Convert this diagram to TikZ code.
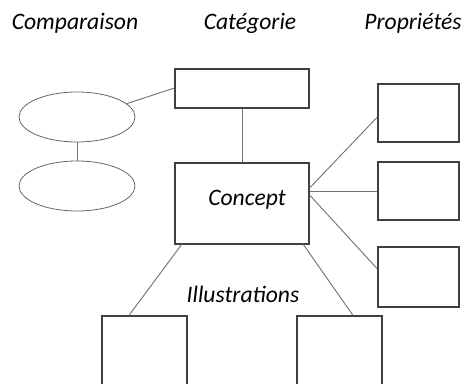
\documentclass[tikz,border=0pt]{standalone}
\usepackage{fontspec}
\setmainfont{Carlito}
\usetikzlibrary{shapes.geometric}
\begin{document}
\begin{tikzpicture}[x=0.75pt,y=-0.75pt,
  box/.style={draw=black!75,line width=0.9pt,fill=white,inner sep=0pt},
  oval/.style={draw=black!60,line width=0.6pt,ellipse,inner sep=0pt,minimum width=87pt,minimum height=37.5pt},
  link/.style={draw=black!55,line width=0.7pt},
  lbl/.style={font=\fontsize{17.7}{20}\selectfont\itshape,inner sep=0pt}]
\useasboundingbox (0,0) rectangle (465,384);
\clip (0,0) rectangle (465,384);
% headings
\node[lbl] (hcomp) at (75,23) {Comparaison};
\node[lbl] (hcat) at (250,23) {Catégorie};
\node[lbl] (hprop) at (413,23) {Propriétés};
% shapes
\node[box,minimum width=100.5pt,minimum height=29.25pt] (cat) at (242,88.5) {};
\node[box,minimum width=100.5pt,minimum height=60.75pt] (concept) at (242,203.5) {};
\node[lbl] (concepttxt) at (247,200) {Concept};
\node[oval] (e1) at (77,117) {};
\node[oval] (e2) at (77,186) {};
\node[box,minimum width=60.75pt,minimum height=43.5pt] (p1) at (418.5,113) {};
\node[box,minimum width=60.75pt,minimum height=43.5pt] (p2) at (418.5,191) {};
\node[box,minimum width=60.75pt,minimum height=45pt] (p3) at (418.5,277) {};
\node[box,minimum width=63.75pt,minimum height=75pt] (i1) at (144.5,366) {};
\node[box,minimum width=63.75pt,minimum height=75pt] (i2) at (339.5,366) {};
\node[lbl] (illtxt) at (243,294) {Illustrations};
% connectors
\draw[link] (e1) -- (e2);
\draw[link] (e1.15) -- (cat.west |- 0,88);
\draw[link] (cat.south) -- (concept.north);
\draw[link] (concept.east |- 0,188) -- (p1.west |- 0,117);
\draw[link] (concept.east |- 0,191) -- (p2.west);
\draw[link] (concept.east |- 0,195) -- (p3.west |- 0,269);
\draw[link] (182,244) -- (i1.north -| 129,0);
\draw[link] (303,244) -- (i2.north -| 353,0);
\end{tikzpicture}
\end{document}
